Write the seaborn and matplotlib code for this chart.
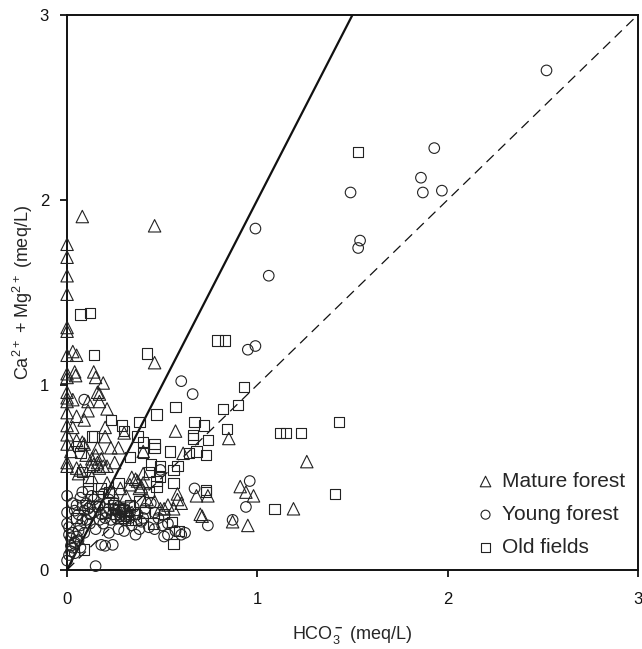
import numpy as np
import pandas as pd
import matplotlib
matplotlib.use("Agg")
import matplotlib.pyplot as plt
import seaborn as sns

# ---- Data: HCO3- vs Ca2+ + Mg2+ (meq/L) by land use ----
mature_x = [0.0, 0.0, 0.0, 0.0, 0.0, 0.0, 0.0, 0.0, 0.0, 0.0, 0.0, 0.0, 0.0, 0.0, 0.0, 0.0, 0.0, 0.0,
            0.08, 0.46, 0.03, 0.05, 0.46, 0.04, 0.045, 0.14, 0.15, 0.19, 0.16, 0.17, 0.03, 0.11, 0.17,
            0.21, 0.11, 0.05, 0.09, 0.03, 0.20, 0.30, 0.57, 0.85, 0.20, 0.05, 0.08, 0.09, 0.16, 0.23,
            0.27, 0.40, 0.61, 0.13, 0.15, 0.16, 0.18, 0.14, 0.19, 0.17, 0.12, 0.05, 0.07, 0.06, 0.21,
            0.25, 0.34, 0.37, 0.33, 0.21, 0.68, 0.74, 0.91, 0.94, 0.98, 1.26, 1.19, 0.71, 0.87, 0.95,
            0.40, 0.40, 0.38, 0.58, 0.58, 0.51, 0.56, 0.70, 0.36, 0.39, 0.42, 0.46, 0.49, 0.53, 0.60,
            0.02, 0.10, 0.13, 0.24, 0.28, 0.31]
mature_y = [1.76, 1.69, 1.59, 1.49, 1.31, 1.29, 1.16, 1.06, 1.04, 0.96, 0.93, 0.91, 0.85, 0.78, 0.73, 0.68, 0.58, 0.56,
            1.91, 1.86, 1.18, 1.16, 1.12, 1.07, 1.05, 1.07, 1.04, 1.01, 0.96, 0.95, 0.92, 0.91, 0.91,
            0.87, 0.86, 0.83, 0.81, 0.77, 0.77, 0.74, 0.75, 0.71, 0.72, 0.70, 0.69, 0.68, 0.66, 0.66,
            0.66, 0.64, 0.63, 0.60, 0.62, 0.58, 0.60, 0.57, 0.56, 0.55, 0.56, 0.55, 0.54, 0.52, 0.56,
            0.58, 0.50, 0.48, 0.46, 0.47, 0.40, 0.40, 0.45, 0.42, 0.40, 0.585, 0.33, 0.29, 0.26, 0.24,
            0.52, 0.47, 0.44, 0.41, 0.38, 0.33, 0.33, 0.30, 0.49, 0.45, 0.38, 0.37, 0.33, 0.35, 0.36,
            0.64, 0.62, 0.50, 0.42, 0.44, 0.40]

young_x = [2.52, 1.93, 1.86, 1.87, 1.97, 1.49, 1.54, 1.53, 0.99, 1.06, 0.95, 0.99, 0.60, 0.66, 0.09,
           0.96, 0.94, 0.87, 0.74, 0.67, 0.49,
           0.15, 0.18, 0.20, 0.24, 0.36, 0.51, 0.53, 0.57, 0.60, 0.62, 0.43, 0.46, 0.50, 0.53,
           0.0, 0.01, 0.02, 0.03, 0.04, 0.02, 0.05, 0.03, 0.06, 0.01, 0.07, 0.04, 0.06, 0.0, 0.0, 0.0, 0.03,
           0.06, 0.09, 0.12, 0.10, 0.14, 0.16, 0.18, 0.20, 0.22, 0.24, 0.26, 0.28, 0.30, 0.32, 0.27, 0.25,
           0.29, 0.31, 0.12, 0.15, 0.09, 0.13, 0.07, 0.19, 0.22, 0.35, 0.37, 0.39, 0.41, 0.44, 0.46, 0.48,
           0.34, 0.38, 0.22, 0.27, 0.30, 0.10, 0.04, 0.08, 0.17,
           0.05, 0.08, 0.11, 0.14, 0.17, 0.21, 0.23, 0.26, 0.28, 0.30, 0.33, 0.02, 0.04, 0.01, 0.07,
           0.12, 0.19, 0.25, 0.33, 0.40]
young_y = [2.70, 2.28, 2.12, 2.04, 2.05, 2.04, 1.78, 1.74, 1.845, 1.59, 1.19, 1.21, 1.02, 0.95, 0.92,
           0.48, 0.34, 0.27, 0.24, 0.44, 0.54,
           0.02, 0.135, 0.13, 0.135, 0.19, 0.18, 0.19, 0.21, 0.19, 0.20, 0.23, 0.22, 0.24, 0.25,
           0.05, 0.08, 0.10, 0.12, 0.15, 0.17, 0.18, 0.20, 0.21, 0.23, 0.24, 0.14, 0.16, 0.25, 0.31, 0.40, 0.36,
           0.30, 0.32, 0.30, 0.36, 0.38, 0.34, 0.30, 0.28, 0.33, 0.30, 0.28, 0.31, 0.27, 0.30, 0.34, 0.36,
           0.33, 0.29, 0.25, 0.22, 0.20, 0.40, 0.39, 0.41, 0.38, 0.34, 0.30, 0.26, 0.33, 0.36, 0.31, 0.28,
           0.24, 0.22, 0.20, 0.22, 0.21, 0.27, 0.32, 0.27, 0.27,
           0.35, 0.42, 0.33, 0.31, 0.35, 0.31, 0.27, 0.32, 0.29, 0.33, 0.28, 0.13, 0.09, 0.19, 0.12,
           0.34, 0.25, 0.33, 0.31, 0.28]

old_x = [1.53, 0.07, 0.12, 0.79, 0.83, 0.14, 0.42, 0.93, 0.57, 0.82, 0.90, 0.47, 0.23, 0.38, 0.29,
         0.30, 0.67, 0.72, 0.84, 0.66, 0.66, 0.74, 0.13, 0.14, 0.37, 0.40, 0.46, 0.46, 0.06, 0.07,
         0.54, 0.64, 0.68, 0.73, 0.40, 0.33, 0.08, 0.44, 0.49, 0.43, 0.49, 0.56, 0.58, 0.11, 0.11,
         0.27, 0.47, 0.47, 0.56, 0.73, 0.73, 1.12, 1.15, 1.23, 1.43, 1.41, 1.09, 0.56, 0.09, 0.59,
         0.25, 0.28, 0.30, 0.32, 0.35, 0.33, 0.22, 0.18, 0.16, 0.38, 0.41, 0.51, 0.55, 0.43, 0.05, 0.08,
         0.27, 0.31, 0.36, 0.24, 0.20, 0.45]
old_y = [2.26, 1.38, 1.39, 1.24, 1.24, 1.16, 1.17, 0.99, 0.88, 0.87, 0.89, 0.84, 0.81, 0.80, 0.78,
         0.75, 0.80, 0.78, 0.76, 0.73, 0.71, 0.70, 0.72, 0.72, 0.72, 0.69, 0.68, 0.66, 0.67, 0.63,
         0.64, 0.63, 0.64, 0.62, 0.63, 0.61, 0.53, 0.57, 0.56, 0.53, 0.50, 0.54, 0.56, 0.48, 0.44,
         0.47, 0.48, 0.45, 0.47, 0.43, 0.42, 0.74, 0.74, 0.74, 0.80, 0.41, 0.33, 0.14, 0.11, 0.21,
         0.30, 0.28, 0.32, 0.27, 0.30, 0.35, 0.42, 0.44, 0.40, 0.37, 0.31, 0.30, 0.26, 0.42, 0.28, 0.35,
         0.33, 0.29, 0.27, 0.35, 0.31, 0.25]

groups = ["Mature forest", "Young forest", "Old fields"]
markers = {"Mature forest": "^", "Young forest": "o", "Old fields": "s"}
sizes = {"Mature forest": 80, "Young forest": 58, "Old fields": 55}

df = pd.concat([
    pd.DataFrame({"HCO3": mature_x, "CaMg": mature_y, "site": "Mature forest"}),
    pd.DataFrame({"HCO3": young_x, "CaMg": young_y, "site": "Young forest"}),
    pd.DataFrame({"HCO3": old_x, "CaMg": old_y, "site": "Old fields"}),
], ignore_index=True)

sns.set_style("ticks")
plt.rcParams["font.family"] = ["Liberation Sans", "DejaVu Sans"]
plt.rcParams["mathtext.fontset"] = "custom"
plt.rcParams["mathtext.rm"] = "Liberation Sans"
plt.rcParams["mathtext.it"] = "Liberation Sans:italic"
plt.rcParams["mathtext.bf"] = "Liberation Sans:bold"

fig = plt.figure(figsize=(6.42, 6.49), dpi=100)
ax = fig.add_axes([0.1045, 0.122, 0.889, 0.855])

for g in groups:
    sub = df[df["site"] == g]
    sns.scatterplot(data=sub, x="HCO3", y="CaMg", marker=markers[g], s=sizes[g],
                    facecolor="none", edgecolor="#222222", linewidth=0.8,
                    label=g, ax=ax, zorder=3, clip_on=False)

# Reference lines: Ca+Mg = 2 HCO3 (solid) and Ca+Mg = HCO3 (dashed)
xl = np.array([0.0, 3.0])
ax.plot(xl, 2 * xl, color="#111111", lw=1.6, zorder=2)
ax.plot(xl, xl, color="#111111", lw=0.9, ls=(0, (8, 5)), zorder=2)

ax.set_xlim(0, 3)
ax.set_ylim(0, 3)
ax.set_xticks([0, 1, 2, 3])
ax.set_yticks([0, 1, 2, 3])
ax.tick_params(axis="both", direction="out", length=5, width=1.3, labelsize=12, colors="#111111")
ax.tick_params(axis="x", pad=11)
ax.tick_params(axis="y", pad=8)
for sp in ax.spines.values():
    sp.set_visible(True)
    sp.set_linewidth(1.4)
    sp.set_color("#111111")

ax.set_xlabel("HCO$_3^{\\bf -}$ (meq/L)", fontsize=13, labelpad=12)
ax.set_ylabel("Ca$^{2+}$ + Mg$^{2+}$ (meq/L)", fontsize=13, labelpad=3)

leg = ax.legend(loc="lower right", frameon=False, fontsize=15, markerscale=0.85,
                handletextpad=0.3, labelspacing=0.68, borderaxespad=0.2, handlelength=1.0)

fig.savefig("out.png", dpi=100)
